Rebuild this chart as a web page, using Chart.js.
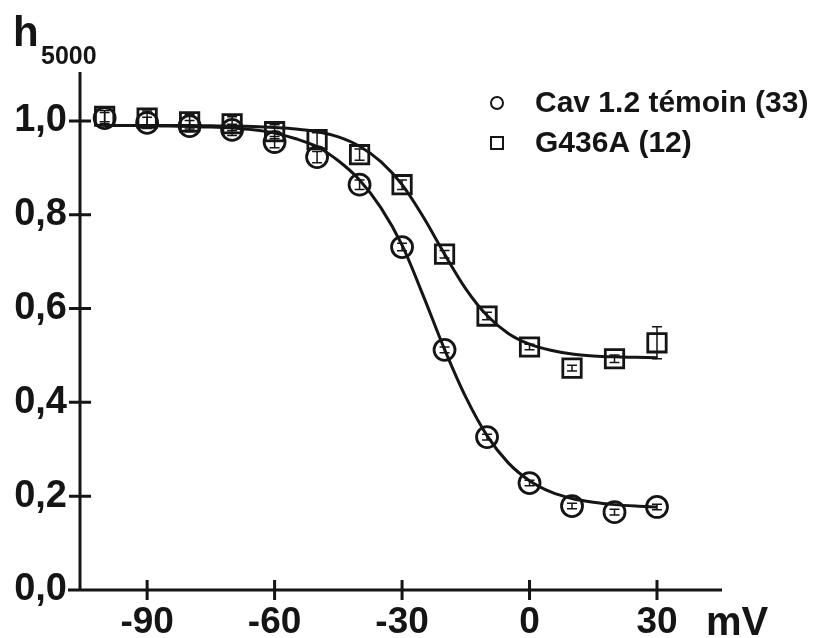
<!DOCTYPE html>
<html>
<head>
<meta charset="utf-8">
<script src="https://cdn.jsdelivr.net/npm/chart.js@4.4.1/dist/chart.umd.min.js"></script>
<style>
  html, body { margin: 0; padding: 0; background: #fff; }
  #wrap { width: 817px; height: 638px; }
</style>
</head>
<body>
<div id="wrap"><canvas id="chart" width="817" height="638"></canvas></div>
<script>
// measured points (mV -> h5000)
const voltages = [-100, -90, -80, -70, -60, -50, -40, -30, -20, -10, 0, 10, 20, 30];
const temoin = [1.006, 0.996, 0.989, 0.981, 0.955, 0.923, 0.864, 0.731, 0.512, 0.326, 0.228, 0.179, 0.166, 0.177];
const temoinErr = [0.012, 0.012, 0.012, 0.012, 0.012, 0.012, 0.01, 0.008, 0.006, 0.006, 0.006, 0.006, 0.006, 0.006];
const g436a = [1.010, 1.006, 0.998, 0.994, 0.977, 0.960, 0.928, 0.864, 0.716, 0.584, 0.518, 0.473, 0.493, 0.527];
const g436aErr = [0.012, 0.015, 0.015, 0.015, 0.015, 0.015, 0.012, 0.01, 0.008, 0.008, 0.006, 0.006, 0.008, 0.034];

// fitted curves, every 5 mV
const fitVoltages = [-100, -95, -90, -85, -80, -75, -70, -65, -60, -55, -50, -45, -40, -35, -30, -25, -20, -15, -10, -5, 0, 5, 10, 15, 20, 25, 30];
const temoinFit = [0.99, 0.99, 0.99, 0.989, 0.988, 0.987, 0.985, 0.981, 0.974, 0.962, 0.945, 0.915, 0.874, 0.815, 0.735, 0.627, 0.513, 0.411, 0.329, 0.271, 0.233, 0.209, 0.195, 0.187, 0.182, 0.179, 0.177];
const g436aFit = [0.99, 0.99, 0.99, 0.99, 0.99, 0.9895, 0.989, 0.988, 0.986, 0.983, 0.977, 0.966, 0.946, 0.913, 0.864, 0.795, 0.716, 0.642, 0.585, 0.547, 0.524, 0.511, 0.503, 0.499, 0.497, 0.496, 0.495];

const xTicks = [-90, -60, -30, 0, 30];
const yTicks = [0, 0.2, 0.4, 0.6, 0.8, 1.0];
const legendLabels = ['Cav 1.2 témoin (33)', 'G436A (12)'];

const ink = '#151515';
const toXY = (xs, ys) => xs.map((v, i) => ({x: v, y: ys[i]}));

// axes with ticks crossing the lines, error bars, legend and titles
const drawExtras = {
  id: 'drawExtras',
  afterDatasetsDraw(chart) {
    const {ctx, scales: {x, y}} = chart;
    ctx.save();
    ctx.strokeStyle = ink;
    ctx.lineWidth = 1.5;
    [[temoin, temoinErr], [g436a, g436aErr]].forEach(([vals, errs]) => {
      vals.forEach((v, i) => {
        const px = x.getPixelForValue(voltages[i]);
        const top = y.getPixelForValue(v + errs[i]);
        const bot = y.getPixelForValue(v - errs[i]);
        ctx.beginPath();
        ctx.moveTo(px, top); ctx.lineTo(px, bot);
        ctx.moveTo(px - 5, top); ctx.lineTo(px + 5, top);
        ctx.moveTo(px - 5, bot); ctx.lineTo(px + 5, bot);
        ctx.stroke();
      });
    });
    ctx.restore();
  },
  afterDraw(chart) {
    const {ctx, chartArea: a, scales: {x, y}} = chart;
    ctx.save();
    ctx.strokeStyle = ink;
    ctx.lineWidth = 3;
    ctx.beginPath();
    ctx.moveTo(a.left, a.top - 2); ctx.lineTo(a.left, a.bottom);
    ctx.moveTo(a.left - 12, a.bottom); ctx.lineTo(a.right, a.bottom);
    yTicks.forEach(v => {
      const py = y.getPixelForValue(v);
      ctx.moveTo(a.left - 11, py); ctx.lineTo(a.left + 11, py);
    });
    xTicks.forEach(v => {
      const px = x.getPixelForValue(v);
      ctx.moveTo(px, a.bottom - 10); ctx.lineTo(px, a.bottom + 10);
    });
    ctx.stroke();

    // legend
    ctx.lineWidth = 2;
    ctx.beginPath(); ctx.arc(497, 103, 6, 0, Math.PI * 2); ctx.stroke();
    ctx.strokeRect(491, 137, 12, 12);
    ctx.fillStyle = ink;
    ctx.textBaseline = 'middle';
    ctx.font = 'bold 30px "Liberation Sans", Arial, sans-serif';
    ctx.fillText(legendLabels[0], 535, 104);
    ctx.fillText(legendLabels[1], 535, 144);

    // axis titles
    ctx.textBaseline = 'alphabetic';
    ctx.font = 'bold 42px "Liberation Sans", Arial, sans-serif';
    ctx.fillText('h', 13, 46);
    ctx.font = 'bold 25px "Liberation Sans", Arial, sans-serif';
    ctx.fillText('5000', 41, 64);
    ctx.font = 'bold 40px "Liberation Sans", Arial, sans-serif';
    ctx.fillText('mV', 706, 635);
    ctx.restore();
  }
};

new Chart(document.getElementById('chart'), {
  type: 'scatter',
  data: {
    datasets: [
      {
        label: legendLabels[0],
        data: toXY(voltages, temoin),
        pointStyle: 'circle',
        pointRadius: 10.5,
        borderWidth: 2.8,
        borderColor: ink,
        backgroundColor: 'rgba(0,0,0,0)'
      },
      {
        label: legendLabels[1],
        data: toXY(voltages, g436a),
        pointStyle: 'rect',
        pointRadius: 13,
        borderWidth: 2.8,
        borderColor: ink,
        backgroundColor: 'rgba(0,0,0,0)'
      },
      {
        data: toXY(fitVoltages, temoinFit),
        showLine: true,
        pointRadius: 0,
        borderWidth: 3,
        borderColor: ink,
        cubicInterpolationMode: 'monotone'
      },
      {
        data: toXY(fitVoltages, g436aFit),
        showLine: true,
        pointRadius: 0,
        borderWidth: 3,
        borderColor: ink,
        cubicInterpolationMode: 'monotone'
      }
    ]
  },
  options: {
    responsive: false,
    animation: false,
    layout: { padding: { top: 74, right: 95, bottom: 0, left: 0 } },
    plugins: { legend: { display: false }, tooltip: { enabled: false } },
    scales: {
      x: {
        type: 'linear',
        min: -105.8,
        max: 45.3,
        afterBuildTicks: s => { s.ticks = xTicks.map(v => ({value: v})); },
        afterFit: s => { s.height = 48; },
        grid: { display: false, drawTicks: false },
        border: { display: false },
        ticks: {
          padding: 14,
          color: ink,
          font: { family: '"Liberation Sans", Arial, sans-serif', size: 37, weight: 'bold', lineHeight: 1 },
          callback: v => String(v)
        }
      },
      y: {
        min: 0,
        max: 1.1,
        afterBuildTicks: s => { s.ticks = yTicks.map(v => ({value: v})); },
        afterFit: s => { s.width = 80; },
        grid: { display: false, drawTicks: false },
        border: { display: false },
        ticks: {
          padding: 13,
          color: ink,
          font: { family: '"Liberation Sans", Arial, sans-serif', size: 38, weight: 'bold' },
          callback: v => v.toFixed(1).replace('.', ',')
        }
      }
    }
  },
  plugins: [drawExtras]
});
</script>
</body>
</html>
